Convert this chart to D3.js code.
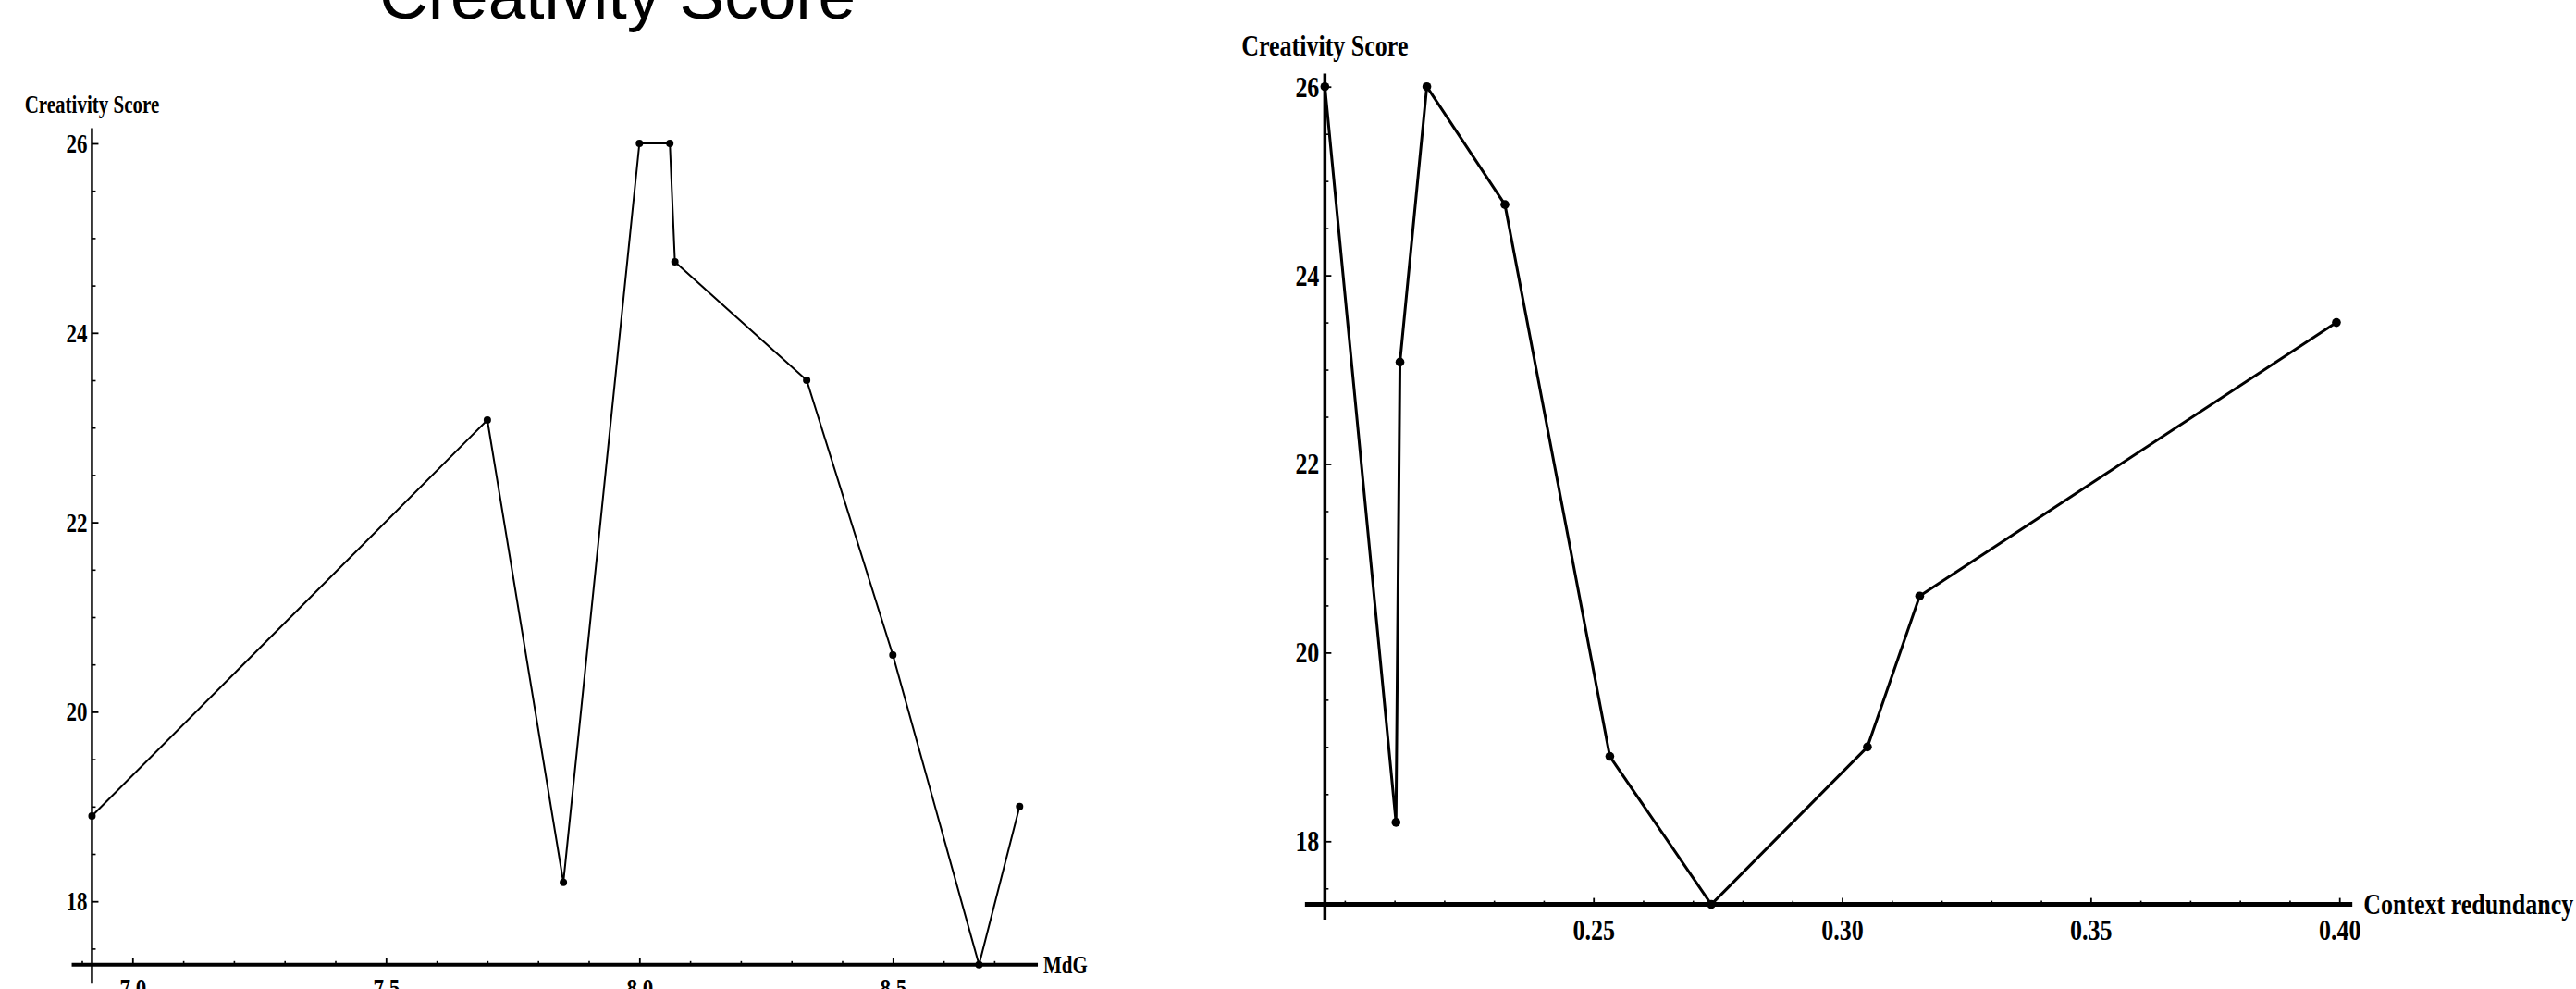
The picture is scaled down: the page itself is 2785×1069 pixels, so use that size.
<!DOCTYPE html>
<html>
<head>
<meta charset="utf-8">
<script src="https://cdn.jsdelivr.net/npm/d3@7"></script>
<style>
  html, body { margin: 0; padding: 0; background: #fff; }
  svg { display: block; }
</style>
</head>
<body>
<svg id="chart" width="2785" height="1069"></svg>
<script>
// ---------------- data ----------------
const pageTitle = "Creativity Score";
const yLabel = "Creativity Score";

// left panel: Creativity Score vs MdG
const mdgValues   = [6.92, 7.70, 7.85, 8.00, 8.06, 8.07, 8.33, 8.50, 8.67, 8.75];
const mdgScores   = [18.9, 23.08, 18.2, 26.0, 26.0, 24.75, 23.5, 20.6, 17.33, 19.0];
const mdgXTicks   = [7.0, 7.5, 8.0, 8.5];
const mdgXLabels  = ["7.0", "7.5", "8.0", "8.5"];
const mdgXLabel   = "MdG";

// right panel: Creativity Score vs Context redundancy
const redValues   = [0.196, 0.2103, 0.2111, 0.2165, 0.2322, 0.2533, 0.2737, 0.3051, 0.3156, 0.3994];
const redScores   = [26.0, 18.2, 23.08, 26.0, 24.75, 18.9, 17.33, 19.0, 20.6, 23.5];
const redXTicks   = [0.25, 0.30, 0.35, 0.40];
const redXLabels  = ["0.25", "0.30", "0.35", "0.40"];
const redXLabel   = "Context redundancy";

const scoreTicks  = [18, 20, 22, 24, 26];
const scoreLabels = ["18", "20", "22", "24", "26"];

// ---------------- drawing ----------------
const svg = d3.select("#chart");
svg.append("rect").attr("width", 2785).attr("height", 1069).attr("fill", "#fff");

svg.append("text")
  .attr("x", 410).attr("y", 20)
  .attr("font-family", "'Liberation Sans', Arial, sans-serif")
  .attr("font-size", 73)
  .attr("fill", "#000")
  .text(pageTitle);

function panel(cfg) {
  const xs = d3.scaleLinear().domain(cfg.xDomain).range(cfg.xRange);
  const ys = d3.scaleLinear().domain(cfg.yDomain).range(cfg.yRange);
  const x0 = cfg.xs[0];                 // axes cross at the data minimum
  const y0 = d3.min(cfg.ys);
  const ox = xs(x0), oy = ys(y0);
  const g = svg.append("g");
  const font = "'Liberation Serif', 'Times New Roman', serif";
  const k = cfg.stretch;

  // minor x ticks
  const minorX = d3.range(cfg.minorX[0], cfg.minorX[1] + 1e-9, cfg.minorX[2])
    .filter(v => !cfg.xTicks.some(t => Math.abs(t - v) < 1e-6));
  g.append("g").attr("transform", `translate(0,${oy})`)
    .call(d3.axisBottom(xs).tickValues(minorX).tickSizeInner(-cfg.minorLen).tickSizeOuter(0).tickFormat(""))
    .call(a => a.select(".domain").remove())
    .call(a => a.selectAll("line").attr("stroke-width", 1.6));
  // major x ticks + labels
  g.append("g").attr("transform", `translate(0,${oy})`)
    .call(d3.axisBottom(xs).tickValues(cfg.xTicks).tickSizeInner(-cfg.majorLen).tickSizeOuter(0)
      .tickPadding(0).tickFormat((d, i) => cfg.xLabels[i]))
    .call(a => a.select(".domain").remove())
    .call(a => a.selectAll("line").attr("stroke-width", 1.8))
    .call(a => a.selectAll("text")
      .attr("font-family", font).attr("font-weight", "bold").attr("font-size", cfg.fs)
      .attr("fill", "#000")
      .attr("y", cfg.xLabelGap / k).attr("dy", "0.71em")
      .attr("transform", `scale(1,${k})`));

  // minor y ticks
  const minorY = d3.range(cfg.minorY[0], cfg.minorY[1] + 1e-9, cfg.minorY[2])
    .filter(v => !scoreTicks.includes(v));
  g.append("g").attr("transform", `translate(${ox},0)`)
    .call(d3.axisLeft(ys).tickValues(minorY).tickSizeInner(-cfg.minorLen).tickSizeOuter(0).tickFormat(""))
    .call(a => a.select(".domain").remove())
    .call(a => a.selectAll("line").attr("stroke-width", 1.6));
  // major y ticks + labels
  g.append("g").attr("transform", `translate(${ox},0)`)
    .call(d3.axisLeft(ys).tickValues(scoreTicks).tickSizeInner(-cfg.majorLen).tickSizeOuter(0)
      .tickPadding(cfg.yLabelGap).tickFormat((d, i) => scoreLabels[i]))
    .call(a => a.select(".domain").remove())
    .call(a => a.selectAll("line").attr("stroke-width", 1.8))
    .call(a => a.selectAll("text")
      .attr("font-family", font).attr("font-weight", "bold").attr("font-size", cfg.fs)
      .attr("fill", "#000")
      .attr("transform", `scale(1,${k})`));

  // axis lines
  g.append("line")
    .attr("x1", xs(cfg.xAxisExtent[0])).attr("x2", xs(cfg.xAxisExtent[1]))
    .attr("y1", oy).attr("y2", oy)
    .attr("stroke", "#000").attr("stroke-width", cfg.xAxisW);
  g.append("line")
    .attr("x1", ox).attr("x2", ox)
    .attr("y1", ys(cfg.yAxisExtent[0])).attr("y2", ys(cfg.yAxisExtent[1]))
    .attr("stroke", "#000").attr("stroke-width", cfg.yAxisW);

  // axis labels
  g.append("text")
    .attr("transform", `translate(${ox},${cfg.yLabelBase}) scale(1,${k})`)
    .attr("text-anchor", "middle")
    .attr("font-family", font).attr("font-weight", "bold").attr("font-size", cfg.fsLabel)
    .attr("fill", "#000")
    .text(yLabel);
  g.append("text")
    .attr("transform", `translate(${xs(cfg.xAxisExtent[1]) + cfg.xNameGap},${oy}) scale(1,${k})`)
    .attr("dy", "0.33em")
    .attr("font-family", font).attr("font-weight", "bold").attr("font-size", cfg.fsLabel)
    .attr("fill", "#000")
    .text(cfg.xName);

  // data line + points
  const pts = cfg.xs.map((v, i) => [v, cfg.ys[i]]);
  g.append("path")
    .attr("d", d3.line().x(d => xs(d[0])).y(d => ys(d[1]))(pts))
    .attr("fill", "none").attr("stroke", "#000")
    .attr("stroke-width", cfg.lineW).attr("stroke-linejoin", "round");
  g.selectAll("circle.pt").data(pts).join("circle")
    .attr("class", "pt")
    .attr("cx", d => xs(d[0])).attr("cy", d => ys(d[1]))
    .attr("r", cfg.r).attr("fill", "#000");
}

panel({
  xs: mdgValues, ys: mdgScores,
  xTicks: mdgXTicks, xLabels: mdgXLabels, xName: mdgXLabel,
  xDomain: [7.0, 8.5], xRange: [143.3, 965.3],
  yDomain: [18, 26], yRange: [974.2, 155],
  xAxisExtent: [6.88, 8.786], yAxisExtent: [17.13, 26.16],
  minorX: [6.9, 8.7, 0.1], minorY: [17.5, 25.5, 0.5],
  majorLen: 7, minorLen: 4,
  fs: 23, fsLabel: 21, stretch: 1.3,
  xLabelGap: 14, yLabelGap: 5,
  yLabelBase: 122, xNameGap: 6,
  xAxisW: 4, yAxisW: 2.5, lineW: 2, r: 4
});

panel({
  xs: redValues, ys: redScores,
  xTicks: redXTicks, xLabels: redXLabels, xName: redXLabel,
  xDomain: [0.25, 0.40], xRange: [1722.7, 2529.2],
  yDomain: [18, 26], yRange: [909.3, 93.7],
  xAxisExtent: [0.192, 0.4026], yAxisExtent: [17.17, 26.14],
  minorX: [0.20, 0.40, 0.01], minorY: [17.5, 25.5, 0.5],
  majorLen: 7, minorLen: 4,
  fs: 26, fsLabel: 26, stretch: 1.25,
  xLabelGap: 15, yLabelGap: 6,
  yLabelBase: 60, xNameGap: 12,
  xAxisW: 5, yAxisW: 3.5, lineW: 3, r: 4.8
});
</script>
</body>
</html>
